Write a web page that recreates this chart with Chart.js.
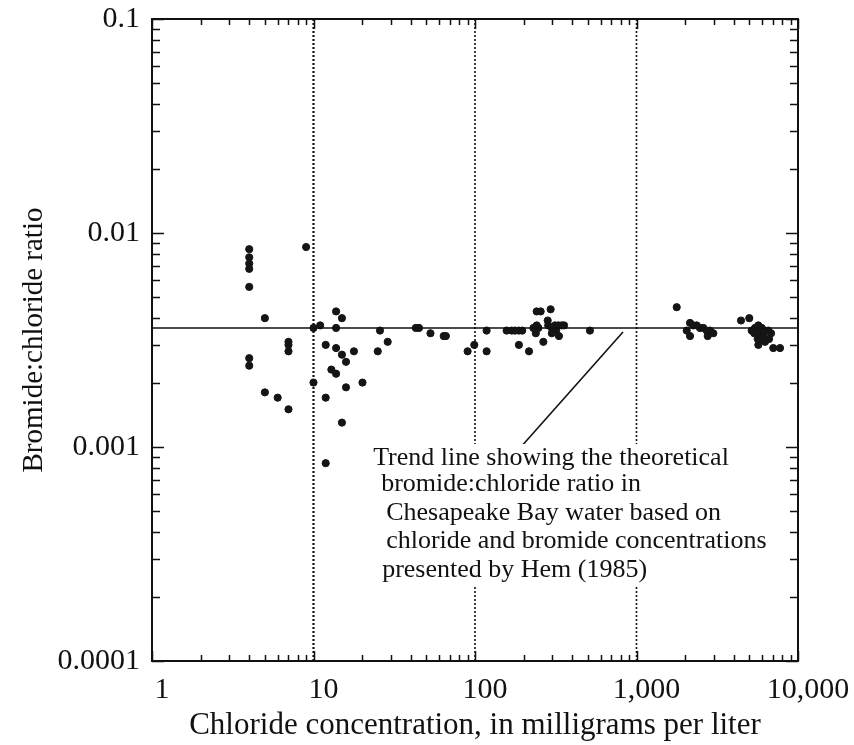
<!DOCTYPE html>
<html>
<head>
<meta charset="utf-8">
<script src="https://cdn.jsdelivr.net/npm/chart.js@4.4.1/dist/chart.umd.min.js"></script>
<style>
  html, body { margin: 0; padding: 0; background: #fff; }
  #wrap { width: 854px; height: 745px; }
</style>
</head>
<body>
<div id="wrap"><canvas id="bromideChart" width="854" height="745"></canvas></div>
<script>
// chloride (mg/L) and bromide:chloride ratio
var chloride = [
  4, 4, 4, 4, 4, 4, 4, 9, 5, 7, 7, 7, 5, 6, 7,
  10, 11, 10, 11.9, 11.9, 11.9, 13.8, 15, 13.8, 13.8, 15, 15.9, 12.9, 13.8, 15.9, 15,
  17.8, 20.1, 25.8, 25, 28.8, 43, 45, 53, 64, 66, 90, 99, 118, 118,
  157, 169, 177, 187, 196, 187, 216, 230, 241, 247, 238, 241, 255, 294, 282, 265,
  284, 299, 313, 328, 344, 356, 318, 299, 331, 515,
  1774, 2145, 2249, 2360, 2473, 2593, 2721, 2852, 2991, 2760, 2046, 2145,
  4437, 4993, 5165, 5420, 5680, 5960, 6250, 6550, 6810, 5360, 5820, 6100,
  5630, 5960, 6250, 5680, 6620, 7030, 7740
];
var ratio = [
  0.0084, 0.0077, 0.0072, 0.0068, 0.0056, 0.0026, 0.0024, 0.0086, 0.0040, 0.0031, 0.0030, 0.0028, 0.0018, 0.0017, 0.0015,
  0.0036, 0.0037, 0.0020, 0.0030, 0.0017, 0.00084, 0.0043, 0.0040, 0.0036, 0.0029, 0.0027, 0.0025, 0.0023, 0.0022, 0.0019, 0.0013,
  0.0028, 0.0020, 0.0035, 0.0028, 0.0031, 0.0036, 0.0036, 0.0034, 0.0033, 0.0033, 0.0028, 0.0030, 0.0035, 0.0028,
  0.0035, 0.0035, 0.0035, 0.0035, 0.0035, 0.0030, 0.0028, 0.0036, 0.0037, 0.0036, 0.0034, 0.0043, 0.0043, 0.0044, 0.0039, 0.0031,
  0.0037, 0.0036, 0.0037, 0.0037, 0.0037, 0.0037, 0.0035, 0.0034, 0.0033, 0.0035,
  0.0045, 0.0038, 0.0037, 0.0037, 0.0036, 0.0036, 0.0035, 0.0035, 0.0034, 0.0033, 0.0035, 0.0033,
  0.0039, 0.0040, 0.0035, 0.0036, 0.0037, 0.0036, 0.0035, 0.0035, 0.0034, 0.0034, 0.0034, 0.0033,
  0.0032, 0.0032, 0.0031, 0.0030, 0.0032, 0.0029, 0.0029
];

var trendRatio = 0.0036;
var xDecades = [1, 10, 100, 1000, 10000];
var xTickLabels = ['1', '10', '100', '1,000', '10,000'];
var yDecades = [0.0001, 0.001, 0.01, 0.1];
var yTickLabels = ['0.0001', '0.001', '0.01', '0.1'];
var minorSteps = [2, 3, 4, 5, 6, 7, 8, 9];
var dottedAt = [10, 100, 1000];
var leaderFrom = { x: 190, y: 0.00099 };
var leaderTo = { x: 825, y: 0.00345 };
var noteX = 23.4;
var noteY = 0.001;
var noteLines = [
  'Trend line showing the theoretical',
  'bromide:chloride ratio in',
  'Chesapeake Bay water based on',
  'chloride and bromide concentrations',
  'presented by Hem (1985)'
];

var serif = "'Liberation Serif', 'Times New Roman', serif";

var points = [];
for (var i = 0; i < chloride.length; i++) {
  points.push({ x: chloride[i], y: ratio[i] });
}

var datasets = [];
for (var d = 0; d < dottedAt.length; d++) {
  datasets.push({
    data: [{ x: dottedAt[d], y: yDecades[0] }, { x: dottedAt[d], y: yDecades[yDecades.length - 1] }],
    showLine: true, borderColor: '#111', borderWidth: d == 0 ? 2.2 : 1.6,
    borderDash: [2, 2], pointRadius: 0
  });
}
datasets.push({
  data: [{ x: xDecades[0], y: trendRatio }, { x: xDecades[xDecades.length - 1], y: trendRatio }],
  showLine: true, borderColor: '#111', borderWidth: 1.6, pointRadius: 0
});
datasets.push({
  data: [leaderFrom, leaderTo],
  showLine: true, borderColor: '#111', borderWidth: 1.6, pointRadius: 0
});
datasets.push({
  data: points,
  pointRadius: 3.6, pointBackgroundColor: '#151515', pointBorderColor: '#151515',
  pointBorderWidth: 1, showLine: false
});

var setTicks = function(values) {
  return function(scale) {
    scale.ticks = values.map(function(v) { return { value: v }; });
  };
};

var frame = {
  id: 'frame',
  afterDatasetsDraw: function(chart) {
    var ctx = chart.ctx, a = chart.chartArea;
    var xs = chart.scales.x, ys = chart.scales.y;
    ctx.save();
    ctx.strokeStyle = '#111';
    ctx.lineWidth = 2;
    ctx.strokeRect(a.left, a.top, a.right - a.left, a.bottom - a.top);
    ctx.lineWidth = 1.5;
    ctx.beginPath();
    for (var i = 0; i < xDecades.length; i++) {
      var steps = [1].concat(i < xDecades.length - 1 ? minorSteps : []);
      for (var s = 0; s < steps.length; s++) {
        var px = Math.round(xs.getPixelForValue(xDecades[i] * steps[s])) + 0.5;
        var len = steps[s] == 1 ? 10 : 6;
        ctx.moveTo(px, a.bottom); ctx.lineTo(px, a.bottom - len);
        ctx.moveTo(px, a.top); ctx.lineTo(px, a.top + len);
      }
    }
    for (var j = 0; j < yDecades.length; j++) {
      var ysteps = [1].concat(j < yDecades.length - 1 ? minorSteps : []);
      for (var t = 0; t < ysteps.length; t++) {
        var py = Math.round(ys.getPixelForValue(yDecades[j] * ysteps[t])) + 0.5;
        var ylen = ysteps[t] == 1 ? 12 : 8;
        ctx.moveTo(a.left, py); ctx.lineTo(a.left + ylen, py);
        ctx.moveTo(a.right, py); ctx.lineTo(a.right - ylen, py);
      }
    }
    ctx.stroke();

    // note text sits on a white patch so the dotted lines break behind it
    var x0 = xs.getPixelForValue(noteX);
    var y0 = ys.getPixelForValue(noteY);
    var indent = [0, 8, 13, 13, 9];
    var base = [18, 44, 73, 101, 130];
    ctx.font = '26px ' + serif;
    ctx.textAlign = 'left';
    ctx.textBaseline = 'alphabetic';
    ctx.fillStyle = '#fff';
    for (var k = 0; k < noteLines.length; k++) {
      var w = ctx.measureText(noteLines[k]).width;
      ctx.fillRect(x0 + indent[k] - 2, y0 + base[k] - 21, w + 4, 30);
    }
    ctx.fillStyle = '#111';
    for (var m = 0; m < noteLines.length; m++) {
      ctx.fillText(noteLines[m], x0 + indent[m], y0 + base[m]);
    }
    ctx.restore();
  }
};

new Chart(document.getElementById('bromideChart').getContext('2d'), {
  type: 'scatter',
  data: { datasets: datasets },
  options: {
    responsive: false,
    animation: false,
    events: [],
    layout: { padding: { top: 19, right: 56, left: 0, bottom: 0 } },
    plugins: { legend: { display: false }, tooltip: { enabled: false } },
    scales: {
      x: {
        type: 'logarithmic',
        min: xDecades[0], max: xDecades[xDecades.length - 1],
        afterBuildTicks: setTicks(xDecades),
        afterFit: function(scale) { scale.height = 84; scale.paddingLeft = 0; scale.paddingRight = 0; },
        grid: { display: false, drawTicks: false },
        border: { display: false },
        ticks: {
          color: '#111', padding: 11, labelOffset: 10, maxRotation: 0, autoSkip: false,
          font: { family: serif, size: 30 },
          callback: function(v) { var k = xDecades.indexOf(v); return k < 0 ? '' : xTickLabels[k]; }
        },
        title: {
          display: true, text: 'Chloride concentration, in milligrams per liter',
          color: '#111', font: { family: serif, size: 31 }, padding: { top: 0, bottom: 1 }
        }
      },
      y: {
        type: 'logarithmic',
        min: yDecades[0], max: yDecades[yDecades.length - 1],
        afterBuildTicks: setTicks(yDecades),
        afterFit: function(scale) { scale.width = 152; scale.paddingTop = 0; scale.paddingBottom = 0; },
        grid: { display: false, drawTicks: false },
        border: { display: false },
        ticks: {
          color: '#111', padding: 12, autoSkip: false,
          font: { family: serif, size: 30 },
          callback: function(v) {
            for (var k = 0; k < yDecades.length; k++) {
              if (Math.abs(v / yDecades[k] - 1) < 1e-6) return yTickLabels[k];
            }
            return '';
          }
        },
        title: {
          display: true, text: 'Bromide:chloride ratio',
          color: '#111', font: { family: serif, size: 29 }, padding: { top: 17, bottom: 0 }
        }
      }
    }
  },
  plugins: [frame]
});
</script>
</body>
</html>
